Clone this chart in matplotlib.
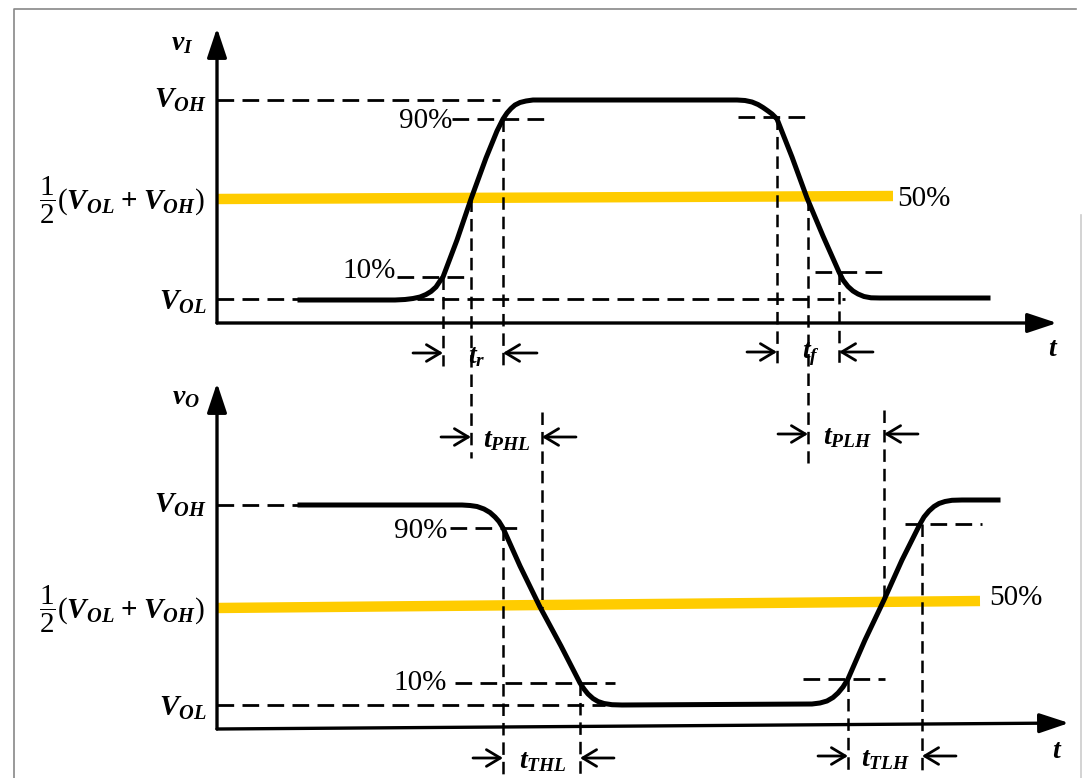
import matplotlib.pyplot as plt

plt.rcParams['mathtext.fontset'] = 'custom'
plt.rcParams['mathtext.rm'] = 'Liberation Serif'
plt.rcParams['mathtext.it'] = 'Liberation Serif:italic:bold'
plt.rcParams['mathtext.bf'] = 'Liberation Serif:bold'
plt.rcParams['lines.scale_dashes'] = False

# everything is in picture units (x = time to the right, y = level going down)
# input waveform v_I
vi_t = [300, 395, 405, 413, 420, 426, 431, 436, 440, 443, 457, 471, 486, 497, 503,
        507, 511, 515, 520, 526, 533, 737, 745, 752, 758, 763, 768, 772, 777, 792,
        807, 823, 839, 843, 848, 853, 858, 864, 871, 880, 988]
vi_v = [300, 300, 299.5, 298.5, 297, 294.5, 291.5, 287, 281, 277, 240, 199, 158, 131, 119,
        113, 108.5, 105, 102.5, 101, 100, 100, 100.5, 102, 104.5, 107.5, 111, 114, 119, 157,
        198, 236, 272, 280, 286.5, 291, 294, 296.5, 297.8, 298, 298]
# output waveform v_O
vo_t = [300, 462, 470, 477, 484, 490, 495, 499, 503, 520, 540, 561, 580, 584, 588,
        593, 598, 604, 612, 622, 812, 820, 827, 833, 838, 843, 848, 865, 884, 902,
        920, 924, 929, 934, 939, 945, 952, 962, 998]
vo_v = [505, 505, 505.5, 506.5, 509, 512.5, 517, 521.5, 528, 566, 607, 646, 683, 689, 694,
        698.5, 701.5, 703.5, 704.7, 705, 704, 703, 701, 697.5, 693, 687, 679, 640, 600, 560,
        524, 517, 511, 506.5, 503.5, 501.5, 500.3, 500, 500]

# levels of the two panels: V_OH, 90%, 50% (left, right), 10%, V_OL, axis
top_lv = dict(voh=100, p90=119, p50=(199, 196), p10=277, vol=299, axis=323)
bot_lv = dict(voh=505, p90=528, p50=(608, 601), p10=683, vol=705, axis=(729, 723))

yellow = '#FFCC00'
fig = plt.figure(figsize=(10.84, 7.78), dpi=100)
ax = fig.add_axes([0, 0, 1, 1])
ax.set_xlim(0, 1084)
ax.set_ylim(778, 0)
ax.axis('off')

# scan border
ax.plot([14, 14, 1076], [778, 9, 9], color='#888888', lw=1.2)
ax.plot([1081, 1081], [215, 778], color='#cccccc', lw=1.2)

dash_h = (12, 6)
dash_v = (9, 5)


def hdash(x0, x1, y):
    ax.plot([x0, x1], [y, y], color='k', lw=2.0, dashes=dash_h)


def vdash(x, y0, y1):
    ax.plot([x, x], [y0, y1], color='k', lw=1.8, dashes=dash_v)


def axis_arrow(x0, y0, x1, y1):
    ax.annotate('', xy=(x1, y1), xytext=(x0, y0),
                arrowprops=dict(arrowstyle='-|>,head_length=0.9,head_width=0.3',
                                lw=2.4, color='k', mutation_scale=20,
                                shrinkA=0, shrinkB=0))


def dim(xl, xr, y, label, lx):
    # arrows pointing inwards onto the two boundary lines
    for a, b in [(xl - 30, xl), (xr + 34, xr)]:
        ax.annotate('', xy=(b, y), xytext=(a, y),
                    arrowprops=dict(arrowstyle='->,head_length=0.5,head_width=0.3',
                                    lw=2.0, color='k', mutation_scale=20,
                                    shrinkA=0, shrinkB=0))
    ax.text(lx, y + 2, label, fontsize=20, ha='center', va='center')


def labels_left(lv):
    ax.text(207, lv['voh'], r'$V_{OH}$', fontsize=21, ha='right', va='center')
    ax.text(205, lv['p50'][0] + 1, r'$\dfrac{1}{2}(V_{OL}\;\mathbf{+}\;V_{OH})$',
            fontsize=21, ha='right', va='center')
    ax.text(207, lv['vol'] + 3, r'$V_{OL}$', fontsize=21, ha='right', va='center')


# ---------- top panel ----------
t = top_lv
hdash(217, 500, t['voh'])
hdash(217, 845, t['vol'])
hdash(452, 550, t['p90'])
hdash(738, 812, 117)
hdash(397, 472, t['p10'])
hdash(815, 885, 272)
ax.plot([217, 893], list(t['p50']), color=yellow, lw=7.5, solid_capstyle='butt')
vdash(443, t['p10'], 366)
vdash(471, t['p50'][0], 458)
vdash(503, t['p90'], 366)
vdash(777, 117, 366)
vdash(808, 198, 463)
vdash(839, 272, 366)
ax.plot(vi_t, vi_v, color='k', lw=3.6, solid_joinstyle='round')
axis_arrow(217, t['axis'], 217, 28)
axis_arrow(217, t['axis'], 1057, t['axis'])
ax.text(182, 42, r'$v_I$', fontsize=20, ha='center', va='center')
ax.text(1053, 348, r'$t$', fontsize=20, ha='center', va='center')
labels_left(t)
ax.text(452, t['p90'] + 2, '90%', fontsize=21, ha='right', va='center',
        family='Liberation Serif')
ax.text(396, t['p10'] - 6, '10%', fontsize=21, ha='right', va='center',
        family='Liberation Serif')
ax.text(897, 199, '50%', fontsize=21, ha='left', va='center',
        family='Liberation Serif')
dim(443, 503, 353, r'$t_r$', 477)
dim(777, 839, 352, r'$t_f$', 811)

# ---------- bottom panel ----------
b = bot_lv
hdash(217, 300, b['voh'])
hdash(217, 605, b['vol'])
hdash(450, 520, b['p90'])
hdash(905, 982, 524)
hdash(455, 615, b['p10'])
hdash(803, 885, 679)
ax.plot([217, 980], list(b['p50']), color=yellow, lw=7.5, solid_capstyle='butt')
vdash(542, 412, b['p50'][0])
vdash(884, 410, 600)
vdash(503, b['p90'], 776)
vdash(580, b['p10'], 776)
vdash(848, 679, 776)
vdash(922, 524, 776)
ax.plot(vo_t, vo_v, color='k', lw=3.6, solid_joinstyle='round')
axis_arrow(217, b['axis'][0], 217, 383)
axis_arrow(217, b['axis'][0], 1069, b['axis'][1])
ax.text(186, 396, r'$v_O$', fontsize=20, ha='center', va='center')
ax.text(1057, 750, r'$t$', fontsize=20, ha='center', va='center')
labels_left(b)
ax.text(447, b['p90'] + 3, '90%', fontsize=21, ha='right', va='center',
        family='Liberation Serif')
ax.text(447, b['p10'], '10%', fontsize=21, ha='right', va='center',
        family='Liberation Serif')
ax.text(989, 598, '50%', fontsize=21, ha='left', va='center',
        family='Liberation Serif')
dim(471, 542, 437, r'$t_{PHL}$', 507)
dim(808, 884, 434, r'$t_{PLH}$', 848)
dim(503, 580, 758, r'$t_{THL}$', 543)
dim(848, 922, 756, r'$t_{TLH}$', 886)

fig.savefig('out.png', dpi=100)
